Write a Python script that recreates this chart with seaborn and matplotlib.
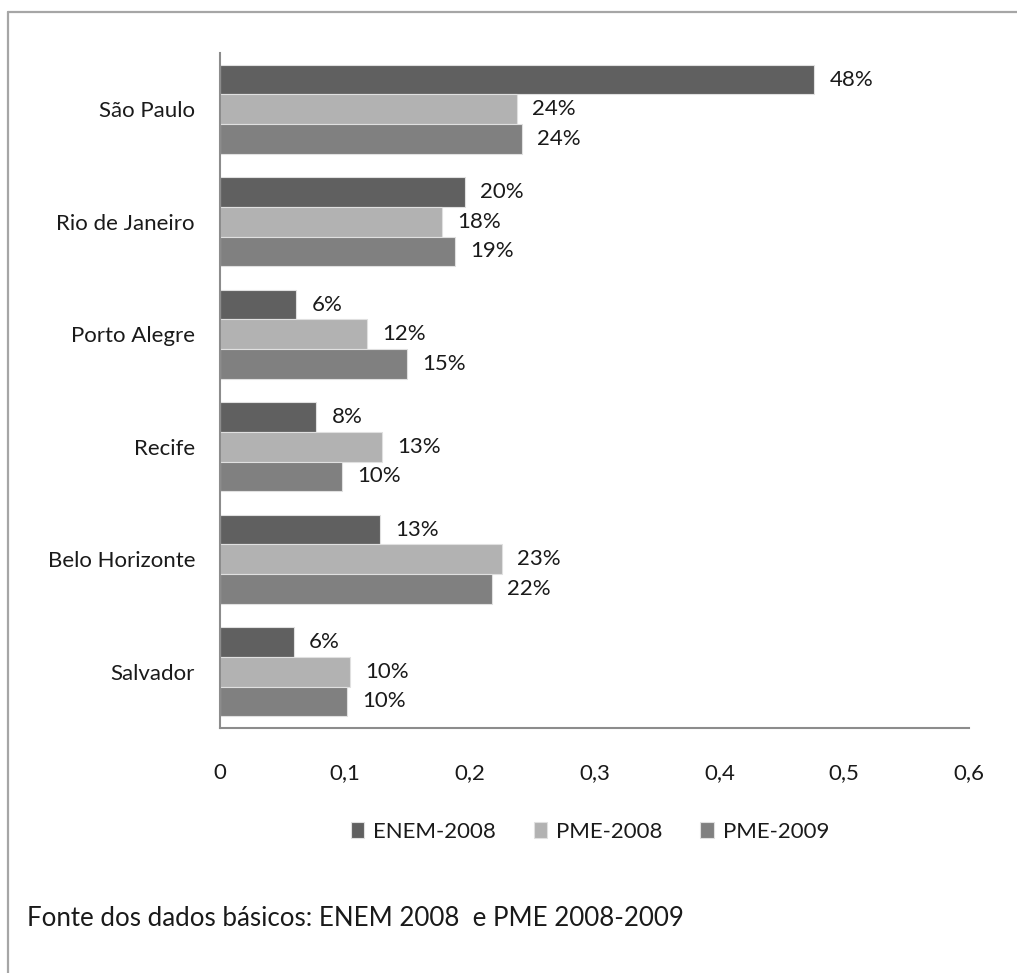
import matplotlib
matplotlib.use("Agg")
import matplotlib.pyplot as plt
from matplotlib.lines import Line2D
import seaborn as sns
import pandas as pd

cities = ["São Paulo", "Rio de Janeiro", "Porto Alegre", "Recife", "Belo Horizonte", "Salvador"]
series = ["ENEM-2008", "PME-2008", "PME-2009"]
enem_2008 = [0.476, 0.196, 0.061, 0.077, 0.128, 0.059]
pme_2008 = [0.238, 0.178, 0.118, 0.130, 0.226, 0.104]
pme_2009 = [0.242, 0.188, 0.150, 0.098, 0.218, 0.102]
xticks = [0, 0.1, 0.2, 0.3, 0.4, 0.5, 0.6]
xtick_labels = ["0", "0,1", "0,2", "0,3", "0,4", "0,5", "0,6"]
colors = ["#606060", "#B2B2B2", "#808080"]
source_note = "Fonte dos dados básicos: ENEM 2008  e PME 2008-2009"

rows = []
for name, vals in zip(series, [enem_2008, pme_2008, pme_2009]):
    for c, v in zip(cities, vals):
        rows.append({"city": c, "series": name, "value": v})
df = pd.DataFrame(rows)

sns.set_theme(style="white")
plt.rcParams["font.family"] = ["Lato", "DejaVu Sans"]

W, H = 1017, 973
fig = plt.figure(figsize=(W / 100, H / 100), dpi=100)
ax = fig.add_axes([220 / W, 1 - 728 / H, (969 - 220) / W, (728 - 53) / H])

sns.barplot(data=df, y="city", x="value", hue="series", order=cities, hue_order=series,
            palette=colors, orient="h", ax=ax, width=0.79, edgecolor="#E0E0E0",
            linewidth=0.8, saturation=1, legend=True)

for cont, vals in zip(ax.containers, [enem_2008, pme_2008, pme_2009]):
    ax.bar_label(cont, labels=[f"{round(v * 100):.0f}%" for v in vals], padding=11,
                 fontsize=16, color="#1A1A1A")

ax.set_xlim(0, 0.6)
ax.set_xticks(xticks)
ax.set_xticklabels(xtick_labels, fontsize=16, color="#1A1A1A")
ax.tick_params(axis="x", length=0, pad=25)
ax.tick_params(axis="y", length=0, pad=18, labelsize=16, labelcolor="#1A1A1A")
ax.set_xlabel("")
ax.set_ylabel("")
for s in ["top", "right"]:
    ax.spines[s].set_visible(False)
for s in ["left", "bottom"]:
    ax.spines[s].set_color("#8C8C8C")
    ax.spines[s].set_linewidth(1.5)

leg = ax.legend(loc="center", bbox_to_anchor=(590 / W, 1 - 832 / H), bbox_transform=fig.transFigure,
                ncol=3, frameon=False, fontsize=16, handlelength=0.6, handleheight=0.7,
                handletextpad=0.4, columnspacing=1.7)
for t in leg.get_texts():
    t.set_color("#1A1A1A")

fig.text(27 / W, 1 - 918 / H, source_note, fontsize=18.6, ha="left", va="center", color="#1A1A1A")

fig.add_artist(Line2D([8 / W, 1], [1 - 12 / H, 1 - 12 / H], transform=fig.transFigure,
                      color="#A6A6A6", linewidth=1.6))
fig.add_artist(Line2D([8 / W, 8 / W], [0, 1 - 12 / H], transform=fig.transFigure,
                      color="#A6A6A6", linewidth=1.6))

fig.savefig("out.png", dpi=100, facecolor="white")
